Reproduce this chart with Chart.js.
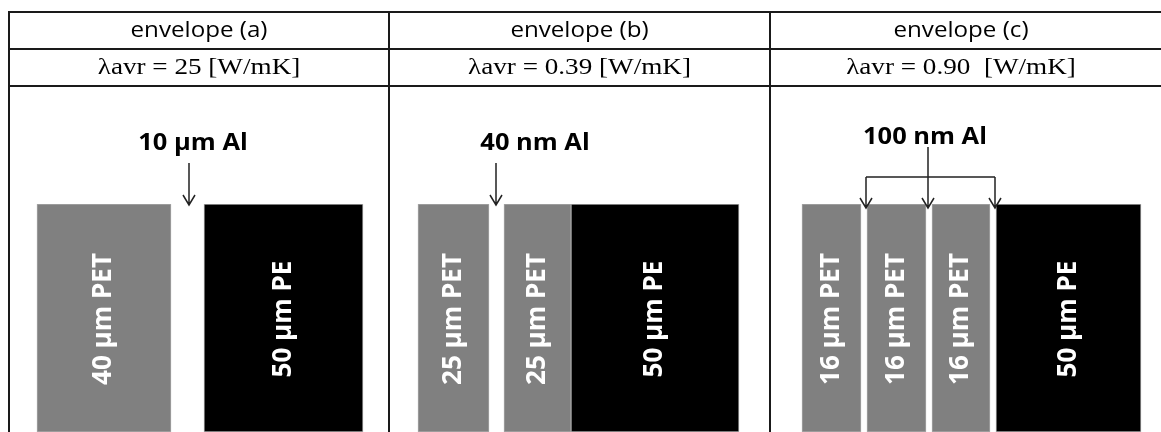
<!DOCTYPE html>
<html>
<head>
<meta charset="utf-8">
<script src="https://cdn.jsdelivr.net/npm/chart.js@4/dist/chart.umd.min.js"></script>
<style>
  body { margin: 0; background: #ffffff; }
  #wrap { width: 1161px; height: 432px; }
</style>
</head>
<body>
<div id="wrap"><canvas id="layersChart" width="1161" height="432"></canvas></div>
<script>
// panels
const envelopeNames = ['envelope (a)', 'envelope (b)', 'envelope (c)'];
const lambdaAvr = ['λavr = 25 [W/mK]', 'λavr = 0.39 [W/mK]', 'λavr = 0.90  [W/mK]'];
const alLabels = ['10 µm Al', '40 nm Al', '100 nm Al'];
// where the Al layers sit (x units of the layer scale)
const alPositions = [[189], [496], [866, 928, 995]];

// film layers, left to right
const layerNames = ['40 µm PET', '50 µm PE', '25 µm PET', '25 µm PET', '50 µm PE',
                    '16 µm PET', '16 µm PET', '16 µm PET', '50 µm PE'];
const layerMaterial = ['PET', 'PE', 'PET', 'PET', 'PE', 'PET', 'PET', 'PET', 'PE'];
const layerStart = [37, 204, 418, 504, 571, 802, 867, 932, 996];
const layerEnd = [171, 363, 489, 571, 739, 861, 926, 990, 1141];

const materialColor = { PET: '#808080', PE: '#000000' };

var datasets = layerNames.map(function (name, i) {
    return {
        label: name,
        data: [[layerStart[i], layerEnd[i]]],
        backgroundColor: materialColor[layerMaterial[i]],
        borderColor: '#a6a6a6',
        borderWidth: 1,
        borderSkipped: false,
        grouped: false,
        barPercentage: 1,
        categoryPercentage: 1
    };
});

function stretchText(ctx, text, x, y, font, color, sx) {
    ctx.save();
    ctx.translate(x, y);
    ctx.scale(sx, 1);
    ctx.font = font;
    ctx.fillStyle = color;
    ctx.textAlign = 'center';
    ctx.textBaseline = 'middle';
    ctx.fillText(text, 0, 0);
    ctx.restore();
}

function arrowDown(ctx, x, y0, y1) {
    ctx.beginPath();
    ctx.moveTo(x, y0);
    ctx.lineTo(x, y1);
    ctx.moveTo(x - 6, y1 - 10);
    ctx.lineTo(x, y1);
    ctx.lineTo(x + 6, y1 - 10);
    ctx.stroke();
}

const diagram = {
    id: 'diagram',
    beforeDraw: function (chart) {
        var ctx = chart.ctx;
        ctx.save();
        ctx.fillStyle = '#ffffff';
        ctx.fillRect(0, 0, chart.width, chart.height);
        ctx.restore();
    },
    afterDatasetsDraw: function (chart) {
        var ctx = chart.ctx;
        var xs = chart.scales.x;
        var cols = [9, 389, 770, 1161];

        ctx.save();
        // table grid
        ctx.strokeStyle = '#1a1a1a';
        ctx.lineWidth = 2;
        [12, 49, 86].forEach(function (y) {
            ctx.beginPath();
            ctx.moveTo(cols[0] - 1, y);
            ctx.lineTo(chart.width, y);
            ctx.stroke();
        });
        [cols[0], cols[1], cols[2]].forEach(function (x) {
            ctx.beginPath();
            ctx.moveTo(x, 11);
            ctx.lineTo(x, chart.height);
            ctx.stroke();
        });

        // header texts
        for (var p = 0; p < 3; p++) {
            var cx = (cols[p] + cols[p + 1]) / 2;
            if (p == 2) cx = (cols[2] + 1152) / 2;
            stretchText(ctx, envelopeNames[p], cx, 31, '21px "Open Sans"', '#000', 1.15);
            stretchText(ctx, lambdaAvr[p], cx, 68, '23px "Liberation Serif"', '#000', 1.18);
        }

        // Al labels and arrows
        ctx.strokeStyle = '#222222';
        ctx.lineWidth = 1.5;
        var labelX = [193, 535, 925];
        var labelY = [143, 143, 137];
        for (var k = 0; k < 3; k++) {
            stretchText(ctx, alLabels[k], labelX[k], labelY[k], 'bold 24px "Open Sans"', '#000', 1.06);
            var pos = alPositions[k].map(function (v) { return xs.getPixelForValue(v); });
            if (pos.length == 1) {
                arrowDown(ctx, pos[0], 163, 205);
            } else {
                ctx.beginPath();
                ctx.moveTo(pos[1], 147);
                ctx.lineTo(pos[1], 177);
                ctx.moveTo(pos[0], 177);
                ctx.lineTo(pos[2], 177);
                ctx.stroke();
                pos.forEach(function (x) { arrowDown(ctx, x, 177, 208); });
            }
        }

        // rotated layer names
        chart.data.datasets.forEach(function (ds, i) {
            var bar = chart.getDatasetMeta(i).data[0];
            var mx = (bar.x + bar.base) / 2;
            ctx.save();
            ctx.translate(mx, 319);
            ctx.rotate(-Math.PI / 2);
            ctx.font = 'bold 26px "Open Sans"';
            ctx.fillStyle = '#ffffff';
            ctx.textAlign = 'center';
            ctx.textBaseline = 'middle';
            ctx.fillText(ds.label, 0, 0);
            ctx.restore();
        });
        ctx.restore();
    }
};

const ctx = document.getElementById('layersChart').getContext('2d');
const layersChart = new Chart(ctx, {
    type: 'bar',
    data: {
        labels: ['layers'],
        datasets: datasets
    },
    options: {
        indexAxis: 'y',
        responsive: false,
        animation: false,
        layout: { padding: { top: 204, left: 0, right: 0, bottom: 0 } },
        scales: {
            x: { type: 'linear', min: 0, max: 1161, display: false },
            y: { display: false }
        },
        plugins: {
            legend: { display: false },
            tooltip: { enabled: false }
        }
    },
    plugins: [diagram]
});
</script>
</body>
</html>
